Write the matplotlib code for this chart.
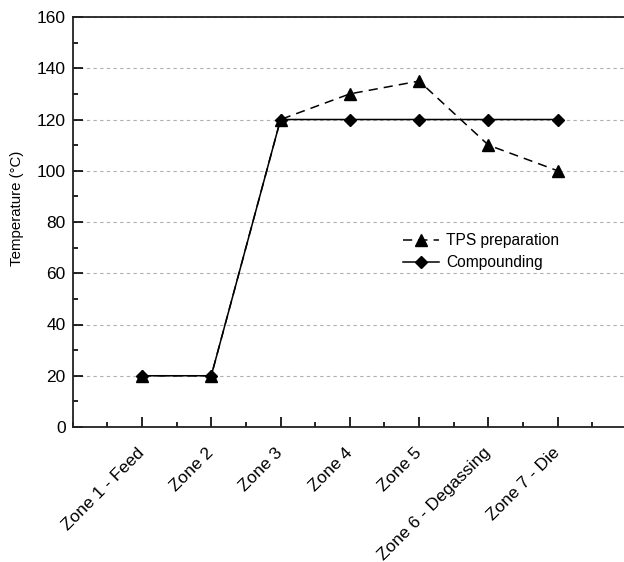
import matplotlib
matplotlib.use("Agg")
import matplotlib.pyplot as plt
from matplotlib.ticker import MultipleLocator

zones = ["Zone 1 - Feed", "Zone 2", "Zone 3", "Zone 4", "Zone 5",
         "Zone 6 - Degassing", "Zone 7 - Die"]
tps_preparation = [20, 20, 120, 130, 135, 110, 100]
compounding = [20, 20, 120, 120, 120, 120, 120]

plt.rcParams['font.family'] = ['Liberation Sans', 'DejaVu Sans']

W, H = 624, 562
fig = plt.figure(figsize=(W / 100, H / 100), dpi=100)
x0, x1, y0, y1 = 72.67, 627.0, 427.0, 17.0
ax = fig.add_axes([x0 / W, 1 - y0 / H, (x1 - x0) / W, (y0 - y1) / H])

pos = list(range(1, len(zones) + 1))
ax.plot(pos, tps_preparation, color='black', lw=1.1, ls=(0, (6, 4)),
        marker='^', ms=8.5, label='TPS preparation', zorder=3)
ax.plot(pos, compounding, color='black', lw=1.1, ls='-',
        marker='D', ms=6.5, label='Compounding', zorder=4)

ax.set_xlim(0, 8)
ax.set_ylim(0, 160)
ax.set_xticks(pos)
ax.set_xticklabels(zones, rotation=45, ha='right', va='center',
                   rotation_mode='anchor', fontsize=12.5)
ax.xaxis.set_minor_locator(MultipleLocator(0.5))
ax.yaxis.set_major_locator(MultipleLocator(20))
ax.yaxis.set_minor_locator(MultipleLocator(10))
ax.tick_params(axis='both', which='major', direction='in', length=7,
               width=1.2, labelsize=12.5, pad=5)
ax.tick_params(axis='both', which='minor', direction='in', length=3.5,
               width=1.2)
ax.tick_params(axis='x', which='major', pad=17)
ax.set_ylabel('Temperature (°C)', fontsize=10.8)
ax.yaxis.set_label_coords(-(x0 - 17.5) / (x1 - x0), (y0 - 208) / (y0 - y1))
ax.yaxis.label.set_va('center')

for s in ['left', 'bottom', 'top']:
    ax.spines[s].set_linewidth(1.3)
    ax.spines[s].set_color('#222222')
ax.spines['right'].set_visible(False)

ax.yaxis.grid(True, which='major', color='#b0b0b0', ls=(0, (3, 3)), lw=0.8)
ax.set_axisbelow(True)

leg = ax.legend(loc='upper left', frameon=False, fontsize=11.2,
                bbox_to_anchor=((403 - x0) / (x1 - x0), (y0 - 233) / (y0 - y1)),
                borderaxespad=0, borderpad=0, handlelength=2.3,
                handletextpad=0.45, labelspacing=0.45)

fig.savefig('out.png', dpi=100)
